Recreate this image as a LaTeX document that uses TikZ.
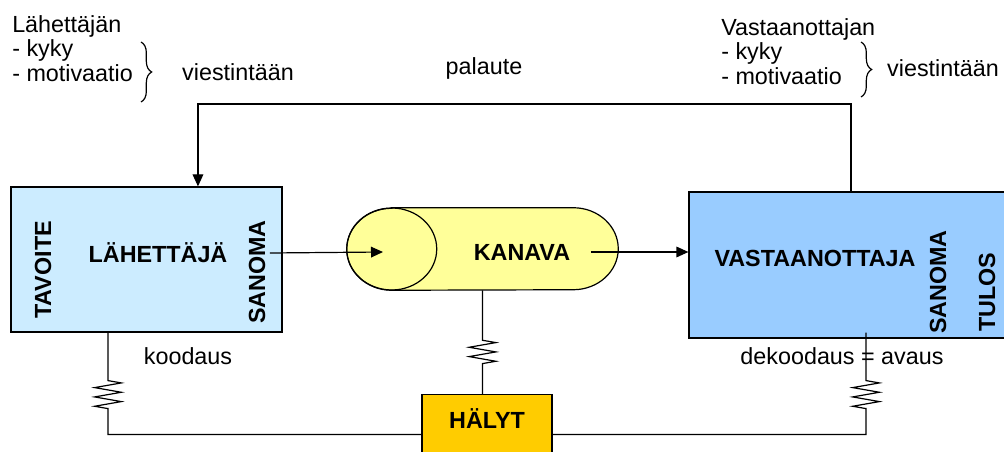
\documentclass[tikz,border=0pt]{standalone}
\usepackage{fontspec}
\setmainfont{Liberation Sans}
\usetikzlibrary{arrows.meta,positioning,calc,shapes.geometric,decorations.pathreplacing,decorations.pathmorphing}
\definecolor{SenderBlue}{HTML}{CCECFF}
\definecolor{ReceiverBlue}{HTML}{99CCFF}
\definecolor{ChannelYellow}{HTML}{FFFF99}
\definecolor{AlarmGold}{HTML}{FFCC00}

\tikzset{
  box/.style={draw=black,line width=0.9pt,inner sep=0pt},
  bigtext/.style={font=\fontsize{17.5}{18.4}\selectfont\bfseries},
  plain/.style={font=\fontsize{17.5}{18.4}\selectfont},
  wire/.style={line width=0.9pt},
  arr/.style={wire,-{Triangle[length=9pt,width=8pt]}},
  vastus/.style={decoration={zigzag,segment length=7pt,amplitude=10pt}},
  pääty/.style={x radius=33.75pt,y radius=30.75pt},
}

\begin{document}
\begin{tikzpicture}[x=0.75pt,y=-0.75pt]
\useasboundingbox (0,0) rectangle (1004,452);

% laatikot
\node[box,fill=SenderBlue,minimum width=203.25pt,minimum height=108.75pt] (sender) at (146.5,259.5) {};
\node[box,fill=ReceiverBlue,minimum width=240.75pt,minimum height=109.5pt] (receiver) at (849.5,265) {};
\node[inner sep=0pt,minimum width=203.25pt,minimum height=61.5pt] (kanava) at (482.5,249) {};
\node[box,fill=AlarmGold,anchor=north,minimum width=97.5pt,minimum height=52pt] (halyt) at (487,394) {};

% kanava (sylinteri)
\draw[wire,fill=ChannelYellow] ($(kanava.north west)+(45,0)$) -- ($(kanava.north east)+(-45,0)$)
  arc[start angle=90,end angle=-90,pääty] -- ($(kanava.south west)+(45,0)$)
  arc[start angle=270,end angle=90,pääty] -- cycle;
\draw[wire] ($(kanava.west)+(45,0)$) ellipse[pääty];

% tekstit laatikoissa
\node[bigtext] (lahettaja) at (158,253) {LÄHETTÄJÄ};
\node[bigtext,rotate=90] (tavoite) at (43,270) {TAVOITE};
\node[bigtext,rotate=90] (sanoma1) at (257,272) {SANOMA};
\node[bigtext] (kanavatxt) at (522,252) {KANAVA};
\node[bigtext] (vastaanottaja) at (815,258) {VASTAANOTTAJA};
\node[bigtext,rotate=90] (sanoma2) at (938,282) {SANOMA};
\node[bigtext,rotate=90] (tulos) at (987,292) {TULOS};
\node[bigtext] (halyttxt) at (487,419) {HÄLYT};

% ylhaalla
\node[plain,align=left,anchor=north west,inner sep=0pt] (lkyky) at (12,15) {Lähettäjän\\- kyky\\- motivaatio};
\node[plain,align=left,anchor=north west,inner sep=0pt] (vkyky) at (721,18) {Vastaanottajan\\- kyky\\- motivaatio};
\draw[wire,decorate,decoration={brace,amplitude=8pt}] (141,42) -- (141,102);
\draw[wire,decorate,decoration={brace,amplitude=8pt}] (861,42) -- (861,97);
\node[plain] (lviest) at (238,72) {viestintään};
\node[plain] (vviest) at (943,68) {viestintään};
\node[plain] (palaute) at (484,68) {palaute};
\node[plain] (koodaus) at (188,356) {koodaus};
\node[plain] (dekoodaus) at (842,356) {dekoodaus = avaus};

% nuolet
\coordinate (kanavain) at (383,252);
\coordinate (pk) at (851,104);
\draw[arr] (sanoma1.south |- lahettaja) -- (kanavain);
\draw[arr] ([xshift=12pt]kanavatxt.east) -- (receiver.west |- kanavatxt);
\draw[arr] (receiver.north -| pk) -- (pk) -| ([xshift=38.6pt]sender.north);

% hairiot
\draw[wire] ([xshift=-28.9pt]sender.south) -- ++(0,48) decorate[vastus]{-- ++(0,28)}
  -- ++(0,26) coordinate (lb) -- (lb -| halyt.west);
\draw[wire] ([xshift=12.4pt,yshift=4.5pt]receiver.south) -- ++(0,48) decorate[vastus]{-- ++(0,28)}
  -- ++(0,26) coordinate (rb) -- (rb -| halyt.east);
\draw[wire] (kanava.south) -- ++(0,50) decorate[vastus]{-- ++(0,27)}
  -- (kanava.south |- halyt.north);
\end{tikzpicture}
\end{document}
